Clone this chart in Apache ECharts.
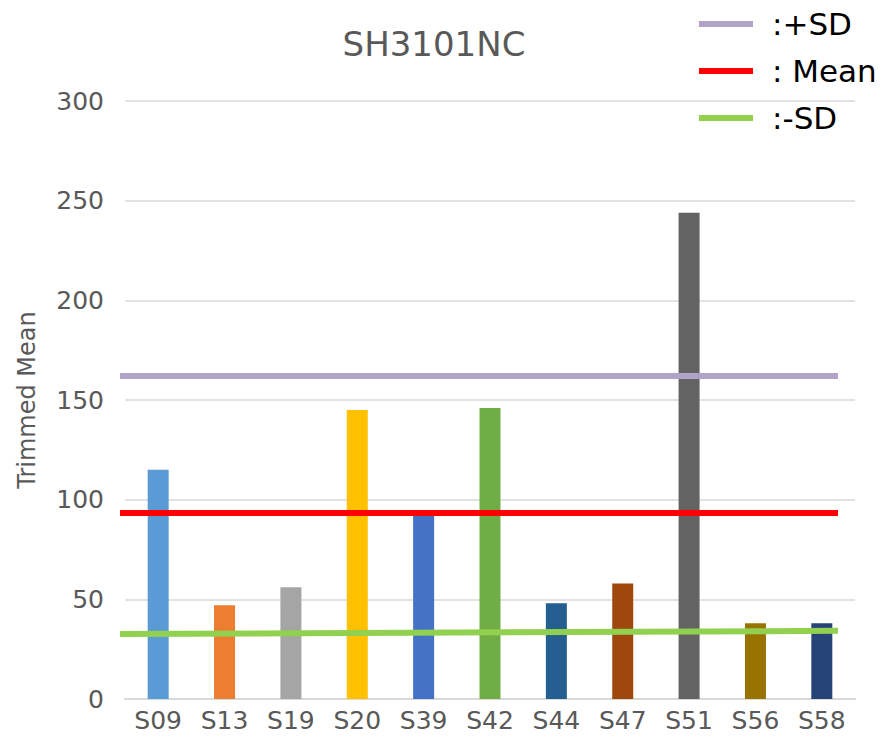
<!DOCTYPE html>
<html>
<head>
<meta charset="utf-8">
<script src="https://cdn.jsdelivr.net/npm/echarts@6/dist/echarts.min.js"></script>
<style>
  html, body { margin: 0; padding: 0; background: #fff; }
  #chart { width: 881px; height: 742px; }
</style>
</head>
<body>
<div id="chart"></div>
<script>
var samples = ['S09', 'S13', 'S19', 'S20', 'S39', 'S42', 'S44', 'S47', 'S51', 'S56', 'S58'];
var trimmedMean = [115, 47, 56, 145, 94, 146, 48, 58, 244, 38, 38];
var barColors = ['#5B9BD5', '#ED7D31', '#A5A5A5', '#FFC000', '#4472C4', '#70AD47',
                 '#255E91', '#9E480E', '#636363', '#997300', '#264478'];
var yTicks = [0, 50, 100, 150, 200, 250, 300];
// reference lines: value at left end, value at right end
var plusSD = [162, 162];
var meanLine = [93.3, 93.3];
var minusSD = [32.6, 34.2];

var font = 'DejaVu Sans, Liberation Sans, sans-serif';
var grey = '#595959';

var chart = echarts.init(document.getElementById('chart'), null, { renderer: 'svg' });

function lineData(v) { return [[0, v[0]], [1, v[1]]]; }

chart.setOption({
  animation: false,
  title: {
    text: 'SH3101NC',
    left: 429,
    textAlign: 'center',
    top: 22,
    textStyle: { color: grey, fontSize: 34, fontWeight: 'normal', fontFamily: font }
  },
  legend: {
    orient: 'vertical',
    left: 694,
    top: 2,
    itemWidth: 54,
    itemHeight: 6,
    itemGap: 13,
    icon: 'rect',
    textStyle: { color: '#000', fontSize: 31, lineHeight: 34, fontFamily: font, padding: [0, 0, 0, 14] },
    data: [':+SD', ': Mean', ':-SD']
  },
  grid: [
    { left: 125, right: 26, top: 101, bottom: 43 },
    { left: 120, right: 43, top: 101, bottom: 43 }
  ],
  xAxis: [
    {
      type: 'category',
      gridIndex: 0,
      data: samples,
      axisTick: { show: false },
      axisLine: { lineStyle: { color: '#D9D9D9', width: 2 } },
      axisLabel: { color: grey, fontSize: 25, fontFamily: font, margin: 9 }
    },
    { type: 'value', gridIndex: 1, min: 0, max: 1, show: false }
  ],
  yAxis: [
    {
      type: 'value',
      gridIndex: 0,
      min: 0,
      max: 300,
      interval: 50,
      name: 'Trimmed Mean',
      nameLocation: 'middle',
      nameGap: 86,
      nameTextStyle: { color: grey, fontSize: 24, fontFamily: font },
      axisLine: { show: false },
      axisTick: { show: false },
      axisLabel: {
        color: grey, fontSize: 25, fontFamily: font, margin: 21,
        formatter: function(v) { return yTicks.indexOf(v) >= 0 ? String(v) : ''; }
      },
      splitLine: { lineStyle: { color: '#D9D9D9', width: 1.5 } }
    },
    { type: 'value', gridIndex: 1, min: 0, max: 300, show: false }
  ],
  series: [
    {
      type: 'bar',
      xAxisIndex: 0,
      yAxisIndex: 0,
      barWidth: 21,
      data: trimmedMean.map(function(v, i) {
        return { value: v, itemStyle: { color: barColors[i] } };
      })
    },
    {
      name: ':+SD', type: 'line', xAxisIndex: 1, yAxisIndex: 1,
      data: lineData(plusSD), symbol: 'none',
      lineStyle: { color: '#B3A2C7', width: 6 }, itemStyle: { color: '#B3A2C7' }
    },
    {
      name: ': Mean', type: 'line', xAxisIndex: 1, yAxisIndex: 1,
      data: lineData(meanLine), symbol: 'none',
      lineStyle: { color: '#FF0000', width: 6 }, itemStyle: { color: '#FF0000' }
    },
    {
      name: ':-SD', type: 'line', xAxisIndex: 1, yAxisIndex: 1,
      data: lineData(minusSD), symbol: 'none',
      lineStyle: { color: '#92D050', width: 6 }, itemStyle: { color: '#92D050' }
    }
  ]
});
window.addEventListener('resize', function() { chart.resize(); });
</script>
</body>
</html>
